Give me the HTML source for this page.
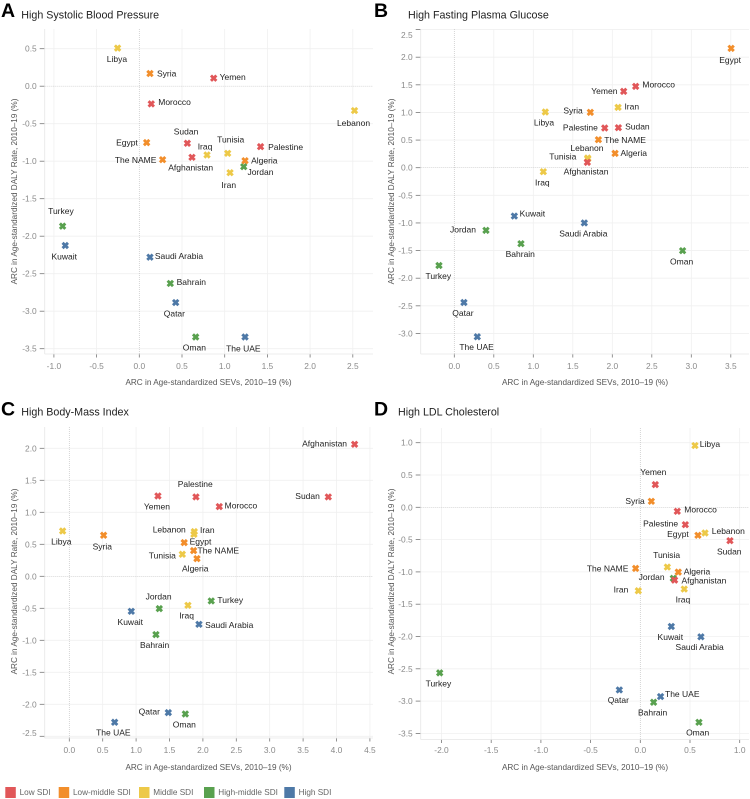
<!DOCTYPE html>
<html lang="en">
<head>
<meta charset="utf-8">
<title>ARC in SEVs vs DALY rate by risk factor</title>
<style>
html,body{margin:0;padding:0;background:#fff;}
svg{display:block;font-family:"Liberation Sans",sans-serif;}
</style>
</head>
<body>
<svg id="chart" xmlns="http://www.w3.org/2000/svg" width="750" height="799" viewBox="0 0 750 799"></svg>
<script>
const countries = ["Kuwait","Qatar","Saudi Arabia","The UAE","Bahrain","Jordan","Oman","Turkey","Iran","Iraq","Lebanon","Libya","Tunisia","Algeria","Egypt","Syria","The NAME","Afghanistan","Morocco","Palestine","Sudan","Yemen"];
const sdiGroupOfCountry = [4,4,4,4,3,3,3,3,2,2,2,2,2,1,1,1,1,0,0,0,0,0];
const sdiNames = ["Low SDI","Low-middle SDI","Middle SDI","High-middle SDI","High SDI"];

const sevA = [-0.867,0.426,0.125,1.238,0.363,1.223,0.66,-0.898,1.0625,0.793,2.52,-0.254,1.035,1.238,0.086,0.125,0.273,0.617,0.14,1.42,0.5625,0.871];
const dalyA = [-2.124,-2.885,-2.28,-3.344,-2.63,-1.073,-3.344,-1.866,-1.153,-0.917,-0.325,0.508,-0.895,-0.993,-0.752,0.169,-0.98,-0.948,-0.236,-0.806,-0.761,0.107];
const sevB = [0.76,0.122,1.646,0.291,0.844,0.401,2.89,-0.194,2.073,1.127,1.688,1.152,1.69,2.035,3.504,1.722,1.824,1.684,2.296,1.904,2.077,2.144];
const dalyB = [-0.875,-2.44,-1.0,-3.06,-1.375,-1.134,-1.502,-1.77,1.092,-0.072,0.175,1.008,0.16,0.259,2.16,1.002,0.507,0.097,1.472,0.718,0.724,1.382];
const sevC = [0.928,1.482,1.941,0.679,1.297,1.347,1.737,2.125,1.871,1.776,1.866,-0.1,1.692,1.911,1.72,0.514,1.861,4.271,2.245,1.896,3.877,1.327];
const dalyC = [-0.547,-2.13,-0.75,-2.281,-0.911,-0.505,-2.151,-0.385,0.698,-0.453,0.656,0.708,0.344,0.276,0.526,0.641,0.401,2.0625,1.089,1.24,1.24,1.255];
const sevD = [0.312,-0.211,0.61,0.204,0.134,0.332,0.59,-2.018,-0.02,0.442,0.651,0.55,0.272,0.382,0.58,0.111,-0.047,0.345,0.372,0.453,0.902,0.151];
const dalyD = [-1.845,-2.827,-2.005,-2.93,-3.018,-1.10,-3.328,-2.563,-1.292,-1.266,-0.398,0.956,-0.925,-1.003,-0.434,0.093,-0.946,-1.127,-0.062,-0.269,-0.517,0.351];

const xTicksA = [-1,-0.5,0,0.5,1,1.5,2,2.5];
const yTicksA = [0.5,0,-0.5,-1,-1.5,-2,-2.5,-3,-3.5];
const xTicksB = [0,0.5,1,1.5,2,2.5,3,3.5];
const yTicksB = [2.5,2,1.5,1,0.5,0,-0.5,-1,-1.5,-2,-2.5,-3];
const xTicksC = [0,0.5,1,1.5,2,2.5,3,3.5,4,4.5];
const yTicksC = [2,1.5,1,0.5,0,-0.5,-1,-1.5,-2,-2.5];
const xTicksD = [-2,-1.5,-1,-0.5,0,0.5,1];
const yTicksD = [1,0.5,0,-0.5,-1,-1.5,-2,-2.5,-3,-3.5];

const palette = ["#E15759","#F28E2B","#EDC948","#59A14F","#4E79A7"];

const labelOffsetsA = [[-1,11],[-1.3,10.7],[29,-1.3],[-1.7,11.3],[21,-1.7],[16.7,5.3],[-1.3,10.7],[-1.7,-15],[-1.3,12.3],[-2,-8.7],[-1,12.3],[-0.7,10.7],[3,-14],[19.3,0],[-19.7,0],[16.7,0],[-27,0.3],[-1.3,10],[23.3,-2],[25,0.3],[-1.3,-11.7],[19,-1.3]];
const labelOffsetsB = [[18,-2.3],[-1,10.3],[-1,10.3],[-0.7,10.3],[-0.7,10.3],[-23,-0.7],[-1,11],[-0.7,10.7],[13.7,-0.7],[-1,10.7],[-0.7,-10],[-1.3,10.7],[-25,-2.3],[18.7,-0.3],[-1,11.7],[-17.3,-2],[26.7,0.3],[-1.3,9.3],[23,-2],[-24.3,-0.7],[19,-1.3],[-19.3,-0.3]];
const labelOffsetsC = [[-1,10.7],[-19,-1.3],[30.3,0.7],[-1.3,10.3],[-1.3,10.3],[-0.7,-12],[-1,10.3],[19,-1],[13,-1.7],[-1.3,10.3],[-24.7,-5],[-1.3,10.7],[-20,1],[-1.7,9.7],[16.3,-1],[-1.3,11],[24.7,0],[-30,-0.7],[21.7,-1],[-0.7,-12.7],[-20.7,-1],[-1,10.3]];
const labelOffsetsD = [[-1,10.7],[-1,10.3],[-1.3,10.3],[21.7,-2.7],[-1,10],[-21.7,-1.3],[-1.3,10],[-1.3,10.7],[-17.3,-1.3],[-1.3,10.3],[23.3,-2],[15,-1.7],[-0.7,-12.3],[18.7,-0.7],[-20,-1.3],[-16.3,-0.3],[-28,0],[29.3,0.3],[23.3,-1.7],[-24.7,-1.3],[-0.7,11],[-2,-12.7]];

const panels = [
  {id:"a",letter:"A",title:"High Systolic Blood Pressure",xs:sevA,ys:dalyA,xt:xTicksA,yt:yTicksA,off:labelOffsetsA,
   left:44.7,right:373,top:29,bottom:354,x0:139.3,kx:85.4,y0:86.2,ky:75,letterX:1,letterY:17,titleX:21.3,titleY:18.6,yTitleX:14,yTitleC:191.5,xTitleC:208.5,xTitleY:385,tickY:369,nudge:{}},
  {id:"b",letter:"B",title:"High Fasting Plasma Glucose",xs:sevB,ys:dalyB,xt:xTicksB,yt:yTicksB,off:labelOffsetsB,
   left:420.7,right:749,top:29,bottom:354,x0:454.3,kx:79,y0:167.7,ky:55.25,letterX:374,letterY:17,titleX:408,titleY:18.6,yTitleX:391,yTitleC:191.5,xTitleC:585,xTitleY:385,tickY:369,nudge:{"2.5":5.3}},
  {id:"c",letter:"C",title:"High Body-Mass Index",xs:sevC,ys:dalyC,xt:xTicksC,yt:yTicksC,off:labelOffsetsC,
   left:44.7,right:373,top:427,bottom:738,x0:69.3,kx:66.8,y0:576.3,ky:64,letterX:1,letterY:415.5,titleX:21.3,titleY:415.5,yTitleX:14,yTitleC:581.5,xTitleC:208.5,xTitleY:770,tickY:753,nudge:{"-2.5":-3.5}},
  {id:"d",letter:"D",title:"High LDL Cholesterol",xs:sevD,ys:dalyD,xt:xTicksD,yt:yTicksD,off:labelOffsetsD,
   left:420.7,right:749,top:428,bottom:739.5,x0:640.3,kx:99.4,y0:507.3,ky:64.6,letterX:374,letterY:415.5,titleX:398,titleY:415.5,yTitleX:391,yTitleC:581.5,xTitleC:585,xTitleY:770,tickY:753,nudge:{}}
];

const NS = "http://www.w3.org/2000/svg";
const svg = document.getElementById("chart");

function mk(tag, attrs, parent, text) {
  const el = document.createElementNS(NS, tag);
  for (const k in attrs) el.setAttribute(k, attrs[k]);
  if (text !== undefined) el.textContent = text;
  parent.appendChild(el);
  return el;
}
function fmt(v) {
  return v.toFixed(1);
}

panels.forEach(function (p) {
  const xScale = function (v) { return p.x0 + p.kx * v; };
  const yScale = function (v) { return p.y0 - p.ky * v; };

  const g = mk("g", {}, svg);
  
  

  const letter = mk("text", {x:p.letterX, y:p.letterY, "font-size":19.5, "font-weight":"bold", fill:"#000"}, g, p.letter);
  
  

  const title = mk("text", {x:p.titleX, y:p.titleY, "font-size":10.7, fill:"#222"}, g, p.title);
  
  

  p.xt.forEach(function (t) {
    const px = xScale(t);
    if (t !== 0) {
      const gl = mk("line", {x1:px, x2:px, y1:p.top, y2:p.bottom, stroke:"#f0f0f0", "stroke-width":0.8}, g);
      
      
    }
    const tk = mk("line", {x1:px, x2:px, y1:p.bottom, y2:p.bottom + 3.5, stroke:"#777", "stroke-width":0.8}, g);
    
    
    const lb = mk("text", {x:px, y:p.tickY, "font-size":8.4, fill:"#8a8a8a", "text-anchor":"middle"}, g, fmt(t));
    
    
  });

  p.yt.forEach(function (t) {
    const py = yScale(t);
    if (t !== 0) {
      const gl = mk("line", {x1:p.left, x2:p.right, y1:py, y2:py, stroke:"#f0f0f0", "stroke-width":0.8}, g);
      
      
    }
    const tk = mk("line", {x1:p.left - 5, x2:p.left, y1:py, y2:py, stroke:"#777", "stroke-width":0.8}, g);
    
    
    const nudge = p.nudge[String(t)] || 0;
    const lb = mk("text", {x:p.left - 8, y:py + 3 + nudge, "font-size":8.4, fill:"#8a8a8a", "text-anchor":"end"}, g, fmt(t));
    
    
  });

  const axisB = mk("line", {x1:p.left, x2:p.right, y1:p.bottom, y2:p.bottom, stroke:"#e6e6e6", "stroke-width":0.8}, g);
  
  
  const axisL = mk("line", {x1:p.left, x2:p.left, y1:p.top, y2:p.bottom, stroke:"#e6e6e6", "stroke-width":0.8}, g);
  
  

  const zeroV = mk("line", {x1:xScale(0), x2:xScale(0), y1:p.top, y2:p.bottom, stroke:"#c2c2c2", "stroke-width":0.7, "stroke-dasharray":"1 1"}, g);
  
  
  const zeroH = mk("line", {x1:p.left, x2:p.right, y1:yScale(0), y2:yScale(0), stroke:"#c2c2c2", "stroke-width":0.7, "stroke-dasharray":"1 1"}, g);
  
  

  const xTitle = mk("text", {x:p.xTitleC, y:p.xTitleY, "font-size":8.2, fill:"#555", "text-anchor":"middle"}, g, "ARC in Age-standardized SEVs, 2010\u201319 (%)");
  
  
  const yTitle = mk("text", {x:0, y:0, "font-size":8.2, fill:"#555", "text-anchor":"middle", transform:"translate(" + (p.yTitleX + 3) + "," + p.yTitleC + ") rotate(-90)"}, g, "ARC in Age-standardized DALY Rate, 2010\u201319 (%)");
  
  

  countries.forEach(function (name, i) {
    const px = xScale(p.xs[i]);
    const py = yScale(p.ys[i]);
    const mark = mk("path", {d:"M-2.7 -2.7L2.7 2.7M-2.7 2.7L2.7 -2.7", transform:"translate(" + px + "," + py + ")", stroke:palette[sdiGroupOfCountry[i]], "stroke-width":2.9, fill:"none"}, g);
    
    
    const o = p.off[i];
    const lb = mk("text", {x:px + o[0], y:py + o[1] + 3, "font-size":8.5, fill:"#222", "text-anchor":"middle"}, g, name);
    
    
  });
});

const legend = mk("g", {}, svg);


const legendLefts = [5.3, 58.7, 139, 204, 284.3];
sdiNames.forEach(function (name, i) {
  const sw = mk("rect", {x:legendLefts[i], y:787, width:10.5, height:11, fill:palette[i]}, legend);
  
  
  const tx = mk("text", {x:legendLefts[i] + 14.3, y:795, "font-size":8.2, fill:"#666"}, legend, name);
  
  
});
</script>
</body>
</html>
